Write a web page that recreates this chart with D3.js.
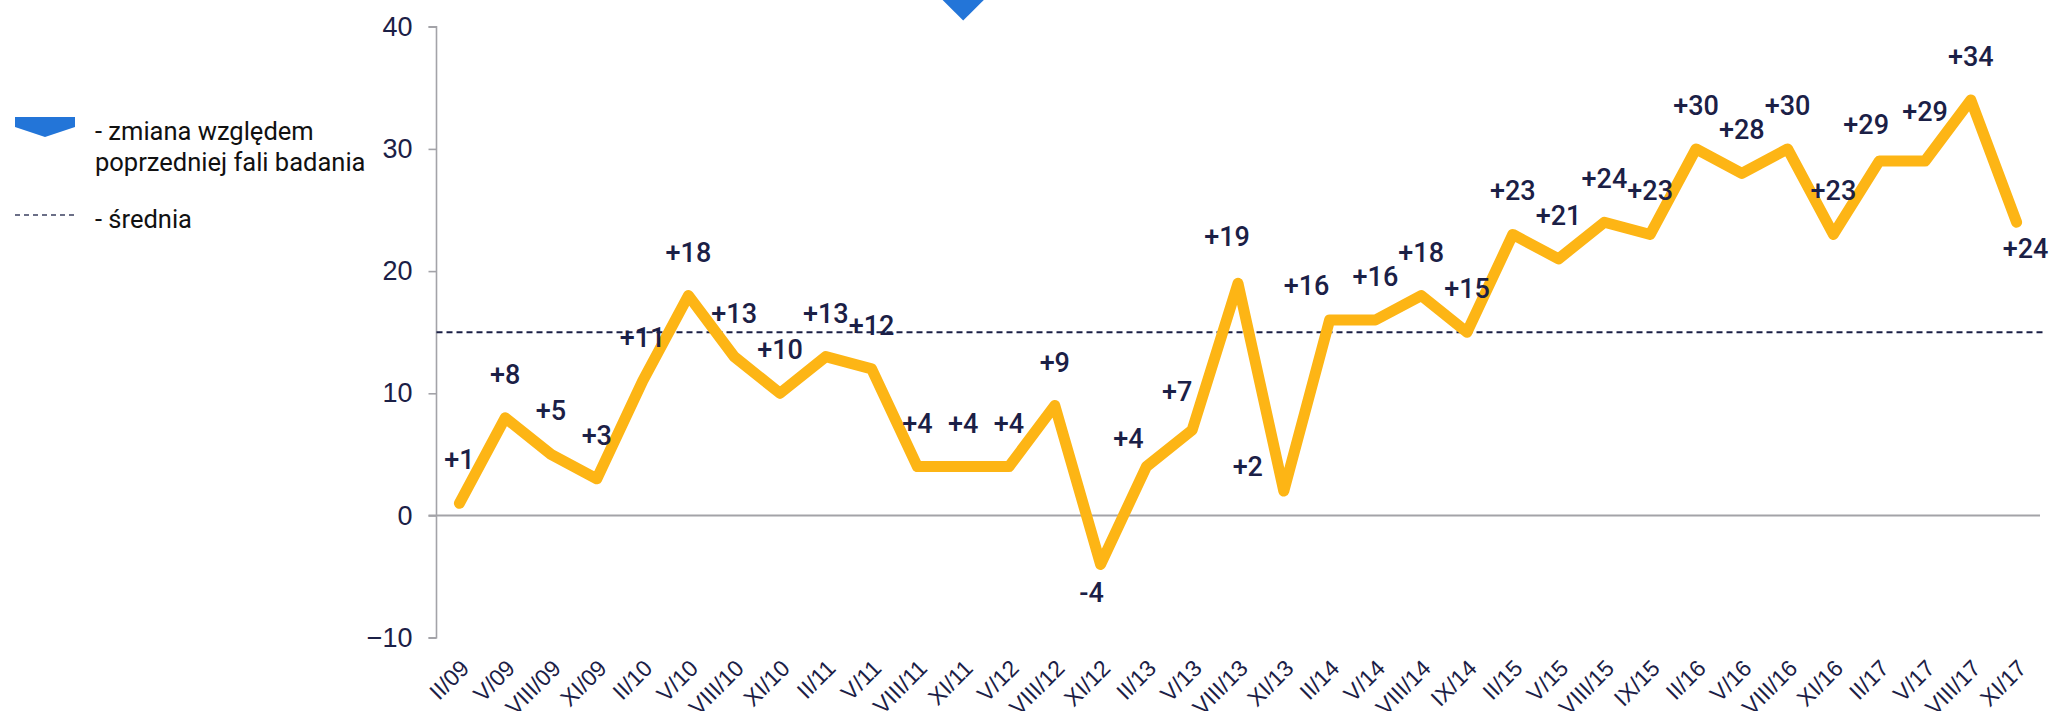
<!DOCTYPE html>
<html>
<head>
<meta charset="utf-8">
<script src="https://cdn.jsdelivr.net/npm/d3@7"></script>
<style>
  html, body { margin: 0; padding: 0; background: #fff; }
  svg { display: block; font-family: Roboto, "Noto Sans", sans-serif; }
</style>
</head>
<body>
<div id="chart"></div>
<script>
// fale badania
const categories = [
    'II/09', 'V/09', 'VIII/09', 'XI/09', 'II/10', 'V/10', 'VIII/10', 'XI/10',
    'II/11', 'V/11', 'VIII/11', 'XI/11', 'V/12', 'VIII/12', 'XI/12', 'II/13',
    'V/13', 'VIII/13', 'XI/13', 'II/14', 'V/14', 'VIII/14', 'IX/14', 'II/15',
    'V/15', 'VIII/15', 'IX/15', 'II/16', 'V/16', 'VIII/16', 'XI/16', 'II/17',
    'V/17', 'VIII/17', 'XI/17'
];

// wartości wskaźnika
const values = [
    1, 8, 5, 3, 11, 18, 13, 10,
    13, 12, 4, 4, 4, 9, -4, 4,
    7, 19, 2, 16, 16, 18, 15, 23,
    21, 24, 23, 30, 28, 30, 23, 29,
    29, 34, 24
];

const meanValue = 15;
const yTicks = [-10, 0, 10, 20, 30, 40];

// fale ze zmianą względem poprzedniej fali
const changeMarkers = ['XI/11'];

// ręczne przesunięcia etykiet [dx, dy] względem punktu
const labelNudges = {
    'XI/12': [-9, 38],
    'II/13': [-18, -19],
    'V/13': [-15, -29],
    'VIII/13': [-11, -37],
    'XI/13': [-36, -15],
    'II/14': [-23, -25],
    'II/17': [-13, -27],
    'V/17': [0, -40],
    'XI/17': [9, 36]
};
const defaultNudge = [0, -34];

const width = 2070;
const height = 711;
const navy = '#1b2046';
const lineColor = '#fdb515';
const blue = '#2375d8';

const svg = d3.select('#chart')
    .append('svg')
    .attr('width', width)
    .attr('height', height);

const x = d3.scalePoint()
    .domain(categories)
    .range([436.5, 2039.5])
    .padding(0.5);

const y = d3.scaleLinear()
    .domain([-10, 40])
    .range([637.7, 26.7]);

// oś Y
const yAxis = svg.append('g')
    .attr('transform', 'translate(436.5,0)')
    .call(d3.axisLeft(y).tickValues(yTicks).tickSize(8).tickPadding(16));

yAxis.select('.domain')
    .attr('stroke', '#a3a3a8')
    .attr('stroke-width', 1.6)
    .attr('d', `M-8,${y(40)}H0V${y(-10)}H-8`);

yAxis.selectAll('.tick line')
    .attr('stroke', '#a3a3a8')
    .attr('stroke-width', 1.6);

yAxis.selectAll('.tick text')
    .attr('fill', navy)
    .style('font-size', '27px')
    .style('font-weight', 300);

// linia zera
svg.append('line')
    .attr('x1', 428.5)
    .attr('x2', 2040)
    .attr('y1', y(0))
    .attr('y2', y(0))
    .attr('stroke', '#a3a3a8')
    .attr('stroke-width', 2.2);

// średnia
svg.append('line')
    .attr('x1', 436.5)
    .attr('x2', 2044)
    .attr('y1', y(meanValue))
    .attr('y2', y(meanValue))
    .attr('stroke', navy)
    .attr('stroke-width', 2)
    .attr('stroke-dasharray', '6,4');

// oś X – etykiety obrócone
const xAxis = svg.append('g')
    .attr('transform', 'translate(0,664)')
    .call(d3.axisBottom(x).tickSize(0).tickPadding(0));

xAxis.select('.domain').remove();

xAxis.selectAll('.tick text')
    .attr('fill', navy)
    .attr('text-anchor', 'end')
    .attr('dy', '0.35em')
    .attr('transform', 'translate(5,0) rotate(-45)')
    .style('font-size', '23px')
    .style('font-weight', 300);

// seria
const data = categories.map((c, i) => ({ category: c, value: values[i] }));

const line = d3.line()
    .x(d => x(d.category))
    .y(d => y(d.value));

svg.append('path')
    .datum(data)
    .attr('fill', 'none')
    .attr('stroke', lineColor)
    .attr('stroke-width', 11)
    .attr('stroke-linejoin', 'round')
    .attr('stroke-linecap', 'round')
    .attr('d', line);

// etykiety danych
svg.append('g')
    .selectAll('text')
    .data(data)
    .join('text')
    .attr('x', d => x(d.category) + (labelNudges[d.category] || defaultNudge)[0])
    .attr('y', d => y(d.value) + (labelNudges[d.category] || defaultNudge)[1])
    .attr('text-anchor', 'middle')
    .attr('fill', navy)
    .style('font-size', '27px')
    .style('font-weight', 500)
    .text(d => (d.value > 0 ? '+' : '') + d.value);

// znacznik zmiany
svg.append('g')
    .selectAll('path')
    .data(changeMarkers)
    .join('path')
    .attr('transform', d => `translate(${x(d)},${y(40.5)})`)
    .attr('d', 'M0,0L-22,-22L22,-22Z')
    .attr('fill', blue);

// legenda
const legend = svg.append('g');

legend.append('path')
    .attr('d', 'M15,117H75V127L45,137L15,127Z')
    .attr('fill', blue);

legend.append('text')
    .attr('x', 95)
    .attr('y', 140)
    .attr('fill', '#111')
    .style('font-size', '25.5px')
    .selectAll('tspan')
    .data(['- zmiana względem', 'poprzedniej fali badania'])
    .join('tspan')
    .attr('x', 95)
    .attr('dy', (d, i) => i === 0 ? 0 : 31)
    .text(d => d);

legend.append('line')
    .attr('x1', 15)
    .attr('x2', 75)
    .attr('y1', 215)
    .attr('y2', 215)
    .attr('stroke', '#3b4060')
    .attr('stroke-width', 1.6)
    .attr('stroke-dasharray', '5,4');

legend.append('text')
    .attr('x', 95)
    .attr('y', 228)
    .attr('fill', '#111')
    .style('font-size', '25.5px')
    .text('- średnia');
</script>
</body>
</html>
